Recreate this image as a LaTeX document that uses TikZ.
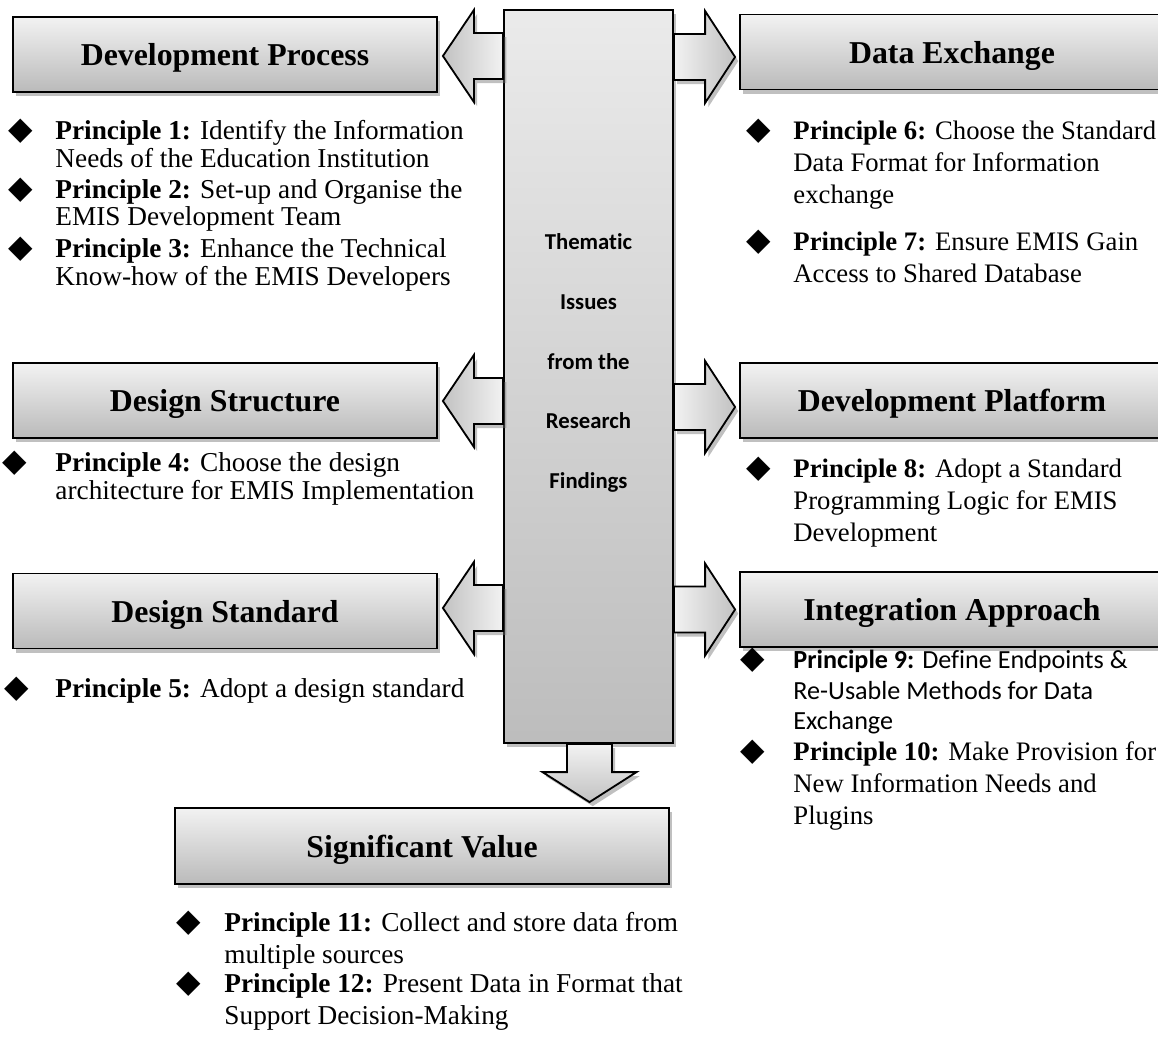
\documentclass[tikz,border=0pt]{standalone}
\usepackage{fontspec}
\setmainfont{Liberation Serif}
\newfontfamily\calibri[Ligatures=NoCommon]{Carlito}
\newfontfamily\dejavu{DejaVu Sans}
\usetikzlibrary{shadows,calc}

\newlength\upx
\setlength\upx{0.44pt}
\newcommand{\bul}{{\dejavu\fontsize{14}{10}\selectfont ◆}}
\newcommand{\plist}[2]{\begin{tabular}{@{}p{#1}@{}l@{}}#2\end{tabular}}

\tikzset{
  boxshadow/.style={drop shadow={shadow xshift=1.4pt, shadow yshift=-1.8pt, opacity=0.45, fill=black!55}},
  titlebox/.style={draw, line width=0.8pt, top color=black!5, bottom color=black!27,
    minimum width=424*\upx, minimum height=75*\upx, inner sep=0pt, text depth=0pt,
    font=\fontsize{14}{16}\selectfont\bfseries, boxshadow},
  column/.style={draw, line width=0.8pt, top color=black!8, bottom color=black!26,
    minimum width=169*\upx, minimum height=733*\upx, inner sep=0pt, boxshadow},
  barrow/.style={draw, line width=0.8pt, line join=miter, boxshadow},
  item/.style={anchor=north west, inner sep=0pt},
  leftitem/.style={item, font=\fontsize{12}{11.9}\selectfont},
  rightitem/.style={item, font=\fontsize{11.75}{14.1}\selectfont},
  bottomitem/.style={item, font=\fontsize{12}{14.1}\selectfont},
}

\begin{document}
\begin{tikzpicture}[x=0.44pt, y=-0.44pt]
\useasboundingbox (0,0) rectangle (1158,1041);

% middle column
\node[column] (col) at (588.5,376.5) {};
\node[font=\calibri\fontsize{10}{26.2}\selectfont\bfseries, align=center] (theme) at (588.5,363)
  {Thematic\\Issues\\from the\\Research\\Findings};

% title boxes
\node[titlebox] (dp)  at (225,54.5)  {Development Process};
\node[titlebox] (ds)  at (225,400.5) {Design Structure};
\node[titlebox] (dst) at (225,611)   {Design Standard};
\node[titlebox] (dx)  at (952,52)    {Data Exchange};
\node[titlebox] (dpl) at (952,400.5) {Development Platform};
\node[titlebox] (ia)  at (952,609.5) {Integration Approach};
\node[titlebox, minimum width=494*\upx, minimum height=76*\upx] (sv) at (422,846) {Significant Value};

% block arrows
\foreach \b/\dy in {dp/1.5, ds/0.5, dst/-3}{
  \coordinate (t) at ($(\b.east)+(5,\dy)$);
  \draw[barrow, left color=black!24, right color=black!5]
    (t) -- ++(31,-46) -- ++(0,23) -- ($(col.west |- t)+(0,-23)$)
    -- ($(col.west |- t)+(0,23)$) -- ($(t)+(31,23)$) -- ++(0,23) -- cycle;
}
\foreach \b/\dy in {dx/5, dpl/6.5, ia/0}{
  \coordinate (t) at ($(\b.west)+(-4,\dy)$);
  \draw[barrow, left color=black!5, right color=black!24]
    (t) -- ++(-30,-46) -- ++(0,23) -- ($(col.east |- t)+(0,-23)$)
    -- ($(col.east |- t)+(0,23)$) -- ($(t)+(-30,23)$) -- ++(0,23) -- cycle;
}
\coordinate (t) at ($(col.south |- sv.north)+(1,-5)$);
\draw[barrow, top color=black!5, bottom color=black!24]
  (t) -- ++(-47,-30) -- ++(24.5,0) -- ($(col.south -| t)+(-22.5,0)$)
  -- ($(col.south -| t)+(22.5,0)$) -- ($(t)+(22.5,-30)$) -- ++(24.5,0) -- cycle;

% principles
\node[leftitem] (p1) at (8,119) {\plist{47\upx}{\bul & \textbf{Principle 1:} Identify the Information\\ & Needs of the Education Institution}};
\node[leftitem] (p2) at (8,178) {\plist{47\upx}{\bul & \textbf{Principle 2:} Set-up and Organise the\\ & EMIS Development Team}};
\node[leftitem] (p3) at (8,237) {\plist{47\upx}{\bul & \textbf{Principle 3:} Enhance the Technical\\ & Know-how of the EMIS Developers}};
\node[leftitem] (p4) at (2,451) {\plist{53\upx}{\bul & \textbf{Principle 4:} Choose the design\\ & architecture for EMIS Implementation}};
\node[leftitem] (p5) at (4,677) {\plist{51\upx}{\bul & \textbf{Principle 5:} Adopt a design standard}};

\node[rightitem] (p6) at (746,117) {\plist{47\upx}{\bul & \textbf{Principle 6:} Choose the Standard\\ & Data Format for Information\\ & exchange}};
\node[rightitem] (p7) at (746,228) {\plist{47\upx}{\bul & \textbf{Principle 7:} Ensure EMIS Gain\\ & Access to Shared Database}};
\node[rightitem] (p8) at (746,455) {\plist{47\upx}{\bul & \textbf{Principle 8:} Adopt a Standard\\ & Programming Logic for EMIS\\ & Development}};
\node[item, font=\calibri\fontsize{11.5}{13.6}\selectfont] (p9) at (740,646) {\plist{53\upx}{\bul & \textbf{Principle 9:} Define Endpoints \&\\ & Re-Usable Methods for Data\\ & Exchange}};
\node[rightitem] (p10) at (740,738) {\plist{53\upx}{\bul & \textbf{Principle 10:} Make Provision for\\ & New Information Needs and\\ & Plugins}};

\node[bottomitem] (p11) at (176,909) {\plist{48\upx}{\bul & \textbf{Principle 11:} Collect and store data from\\ & multiple sources}};
\node[bottomitem] (p12) at (176,970) {\plist{48\upx}{\bul & \textbf{Principle 12:} Present Data in Format that\\ & Support Decision-Making}};
\end{tikzpicture}
\end{document}
